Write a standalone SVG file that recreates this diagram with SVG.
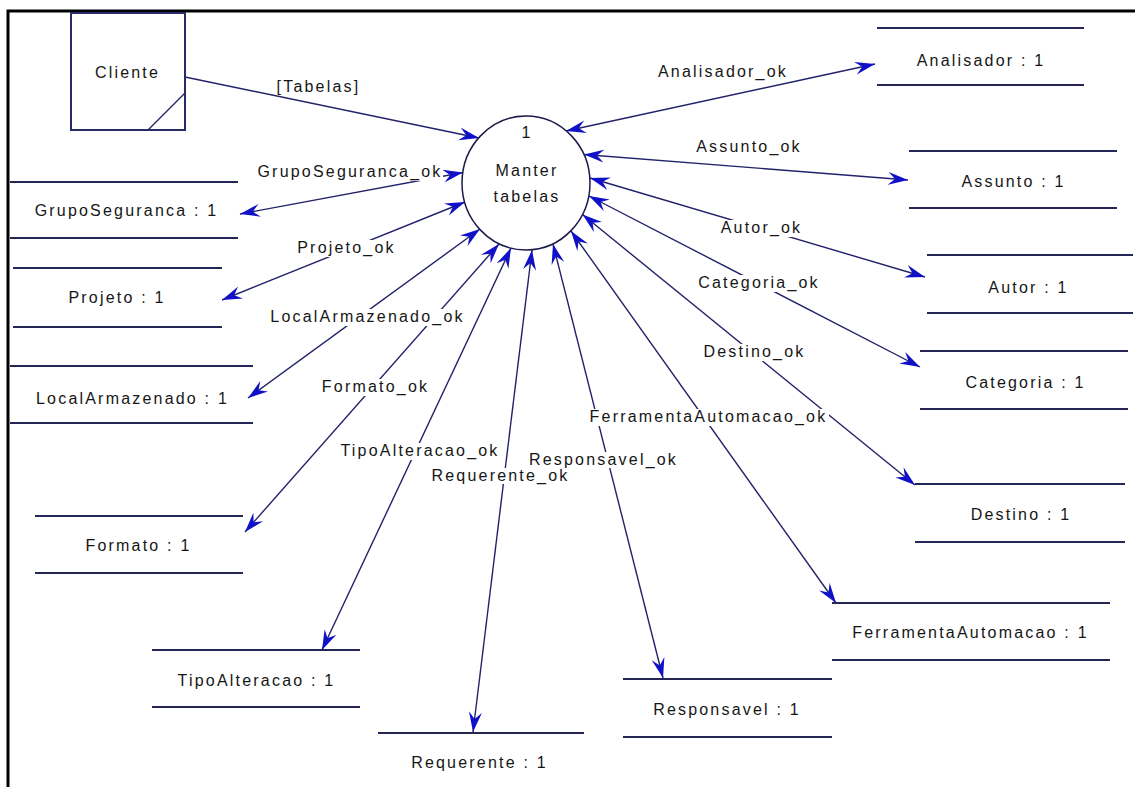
<svg xmlns="http://www.w3.org/2000/svg" width="1135" height="787" viewBox="0 0 1135 787">
  <style>
    text { font-family: "Liberation Sans", Arial, sans-serif; font-size: 16px; letter-spacing: 2.2px; fill: #161616; text-anchor: middle; }
    .store line { stroke: #262656; stroke-width: 2; }
    .flow line { stroke: #22226a; stroke-width: 1.4; fill: none; marker-start: url(#head); marker-end: url(#head); }
    .flow line.in { marker-start: none; }
    .lblbg rect { fill: #ffffff; }
    .proc { fill: #ffffff; stroke: #1c1c4c; stroke-width: 1.5; }
    .ext rect { fill: #ffffff; stroke: #2a2a66; stroke-width: 2; }
    .ext line { stroke: #2a2a66; stroke-width: 1.5; }
  </style>
  <defs>
    <marker id="head" viewBox="-20 -7 20 14" refX="0" refY="0" markerWidth="20" markerHeight="14" markerUnits="userSpaceOnUse" orient="auto-start-reverse">
      <path d="M0,0 L-20,-6.5 L-13,0 L-20,6.5 Z" fill="#1010c8"/>
    </marker>
  </defs>

  <rect width="1135" height="787" fill="#ffffff"/>
  <!-- page frame -->
  <path d="M8,787 V11 H1135" fill="none" stroke="#000000" stroke-width="3"/>

  <!-- data flows -->
  <g id="connectors" class="flow">
    <line class="in" x1="185" y1="77" x2="479" y2="138"/>
    <line x1="566" y1="131" x2="875" y2="64"/>
    <line x1="584" y1="154.5" x2="908" y2="180"/>
    <line x1="590" y1="178" x2="925" y2="277"/>
    <line x1="589" y1="196" x2="920" y2="367"/>
    <line x1="582.5" y1="214.5" x2="915" y2="485"/>
    <line x1="571" y1="231" x2="836" y2="603"/>
    <line x1="553" y1="244" x2="663" y2="678"/>
    <line x1="532" y1="250" x2="473" y2="732"/>
    <line x1="511" y1="248" x2="322" y2="650"/>
    <line x1="499" y1="244" x2="245" y2="532"/>
    <line x1="480" y1="229" x2="248" y2="398"/>
    <line x1="465" y1="202" x2="222" y2="300"/>
    <line x1="463" y1="172.5" x2="240" y2="214"/>
  </g>

  <!-- flow labels: white backing so the flows break behind their names -->
  <g id="flow-label-backing" class="lblbg">
    <rect x="655" y="64" width="134" height="17"/>
    <rect x="696" y="139" width="104" height="17"/>
    <rect x="720" y="220" width="81" height="17"/>
    <rect x="696" y="275" width="124" height="17"/>
    <rect x="703" y="344" width="101" height="17"/>
    <rect x="586" y="409" width="243" height="17"/>
    <rect x="535" y="452" width="135" height="16"/>
    <rect x="435" y="468" width="129" height="16"/>
    <rect x="339" y="443" width="160" height="17"/>
    <rect x="319" y="379" width="111" height="17"/>
    <rect x="266" y="309" width="201" height="17"/>
    <rect x="294" y="240" width="103" height="17"/>
    <rect x="253" y="164" width="190" height="17"/>
  </g>
  <g id="flow-labels">
    <text x="318.5" y="92">[Tabelas]</text>
    <text x="723" y="77">Analisador_ok</text>
    <text x="749" y="152">Assunto_ok</text>
    <text x="761.5" y="233">Autor_ok</text>
    <text x="759" y="288">Categoria_ok</text>
    <text x="754.5" y="357">Destino_ok</text>
    <text x="708.5" y="422">FerramentaAutomacao_ok</text>
    <text x="603.5" y="465">Responsavel_ok</text>
    <text x="500.5" y="481">Requerente_ok</text>
    <text x="420" y="456">TipoAlteracao_ok</text>
    <text x="375.5" y="392">Formato_ok</text>
    <text x="367.5" y="322">LocalArmazenado_ok</text>
    <text x="346.5" y="253">Projeto_ok</text>
    <text x="350" y="177">GrupoSeguranca_ok</text>
  </g>

  <!-- external entity -->
  <g id="cliente" class="ext">
    <rect x="71" y="13" width="114" height="117"/>
    <line x1="148" y1="130" x2="185" y2="93"/>
    <text x="127.5" y="78">Cliente</text>
  </g>

  <!-- process -->
  <g id="manter-tabelas">
    <ellipse class="proc" cx="526" cy="183" rx="64" ry="67"/>
    <text x="527" y="138">1</text>
    <text x="527" y="176">Manter</text>
    <text x="527" y="202">tabelas</text>
  </g>

  <!-- data stores -->
  <g id="analisador" class="store">
    <line x1="877" y1="28" x2="1084" y2="28"/><line x1="877" y1="85" x2="1084" y2="85"/>
    <text x="981" y="66">Analisador : 1</text>
  </g>
  <g id="assunto" class="store">
    <line x1="909" y1="151" x2="1117" y2="151"/><line x1="909" y1="208" x2="1117" y2="208"/>
    <text x="1013.5" y="187">Assunto : 1</text>
  </g>
  <g id="autor" class="store">
    <line x1="927" y1="255" x2="1133" y2="255"/><line x1="927" y1="313" x2="1133" y2="313"/>
    <text x="1028.5" y="293">Autor : 1</text>
  </g>
  <g id="categoria" class="store">
    <line x1="920" y1="351" x2="1128" y2="351"/><line x1="920" y1="409" x2="1128" y2="409"/>
    <text x="1025.5" y="388">Categoria : 1</text>
  </g>
  <g id="destino" class="store">
    <line x1="915" y1="484" x2="1125" y2="484"/><line x1="915" y1="542" x2="1125" y2="542"/>
    <text x="1021" y="520">Destino : 1</text>
  </g>
  <g id="ferramenta-automacao" class="store">
    <line x1="832" y1="603" x2="1110" y2="603"/><line x1="832" y1="660" x2="1110" y2="660"/>
    <text x="970.5" y="638">FerramentaAutomacao : 1</text>
  </g>
  <g id="responsavel" class="store">
    <line x1="623" y1="679" x2="832" y2="679"/><line x1="623" y1="737" x2="832" y2="737"/>
    <text x="727" y="715">Responsavel : 1</text>
  </g>
  <g id="requerente" class="store">
    <line x1="378" y1="733" x2="584" y2="733"/>
    <text x="479.5" y="768">Requerente : 1</text>
  </g>
  <g id="tipo-alteracao" class="store">
    <line x1="152" y1="650" x2="360" y2="650"/><line x1="152" y1="707" x2="360" y2="707"/>
    <text x="256.5" y="686">TipoAlteracao : 1</text>
  </g>
  <g id="formato" class="store">
    <line x1="35" y1="516" x2="243" y2="516"/><line x1="35" y1="573" x2="243" y2="573"/>
    <text x="138.5" y="551">Formato : 1</text>
  </g>
  <g id="local-armazenado" class="store">
    <line x1="10" y1="366" x2="253" y2="366"/><line x1="10" y1="423" x2="253" y2="423"/>
    <text x="132.5" y="404">LocalArmazenado : 1</text>
  </g>
  <g id="projeto" class="store">
    <line x1="13" y1="268" x2="222" y2="268"/><line x1="13" y1="327" x2="222" y2="327"/>
    <text x="117" y="303">Projeto : 1</text>
  </g>
  <g id="grupo-seguranca" class="store">
    <line x1="10" y1="182" x2="238" y2="182"/><line x1="10" y1="238" x2="238" y2="238"/>
    <text x="126.5" y="216">GrupoSeguranca : 1</text>
  </g>
</svg>
